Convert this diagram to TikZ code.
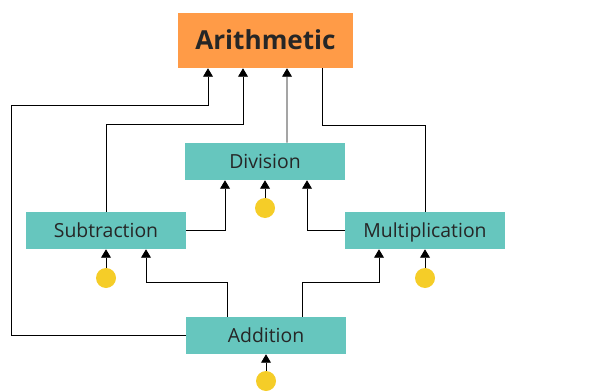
\documentclass[tikz,border=0pt]{standalone}
\usepackage{fontspec}
\setmainfont{Open Sans}
\usetikzlibrary{arrows.meta,calc}
\definecolor{topfill}{HTML}{FF9B47}
\definecolor{opfill}{HTML}{66C6BE}
\definecolor{inputfill}{HTML}{F5CD28}
\tikzset{
	op/.style={fill=opfill, text=black!85, minimum width=4cm, minimum height=0.925cm, inner sep=0pt, text height=11pt, text depth=1.2pt, font=\fontsize{13.8}{16}\selectfont},
	top/.style={fill=topfill, text=black!85, minimum width=4.375cm, minimum height=1.375cm, inner sep=0pt, text height=14.5pt, text depth=1.3pt, font=\fontsize{18.6}{22}\selectfont\bfseries},
	input/.style={circle, fill=inputfill, minimum size=0.5cm, inner sep=0pt},
	link/.style={line width=0.6pt},
	arr/.style={link, -{Triangle[length=6pt,width=7pt]}}
}
\begin{document}
	\begin{tikzpicture}[x=0.025cm, y=-0.025cm]
		\useasboundingbox (0,0) rectangle (596,392);
		\node[top] (arith) at (265.5,40.5) {Arithmetic};
		\node[op] (div) at (265,161.5) {Division};
		\node[op] (sub) at (106,230.5) {Subtraction};
		\node[op] (mul) at (425,230.5) {Multiplication};
		\node[op] (add) at (266,335.5) {Addition};
		\node[input] (indiv) at (265,208) {};
		\node[input] (insub) at (106,278) {};
		\node[input] (inmul) at (425,278) {};
		\node[input] (inadd) at (266,381) {};
		\draw [arr] (indiv) -- (div);
		\draw [arr] (insub) -- (sub);
		\draw [arr] (inmul) -- (mul);
		\draw [arr] (inadd) -- (add);
		\draw [arr] (add.west) -| (11,105) -| ($(arith.south)+(-57.5,0)$);
		\draw [arr] (sub.north) -- ++(0,-87) -| ($(arith.south)+(-22.5,0)$);
		\draw [arr] ($(div.north)+(22,0)$) -- ($(arith.south)+(21.5,0)$);
		\draw [link] ($(arith.south)+(56.5,0)$) -- ++(0,57) -| (mul.north);
		\draw [arr] (sub.east) -| ($(div.south)+(-40,0)$);
		\draw [arr] (mul.west) -| ($(div.south)+(42,0)$);
		\draw [arr] ($(add.north)+(-39,0)$) -- ++(0,-34) -| ($(sub.south)+(40,0)$);
		\draw [arr] ($(add.north)+(36,0)$) -- ++(0,-34) -| ($(mul.south)+(-46,0)$);
	\end{tikzpicture}
\end{document}
